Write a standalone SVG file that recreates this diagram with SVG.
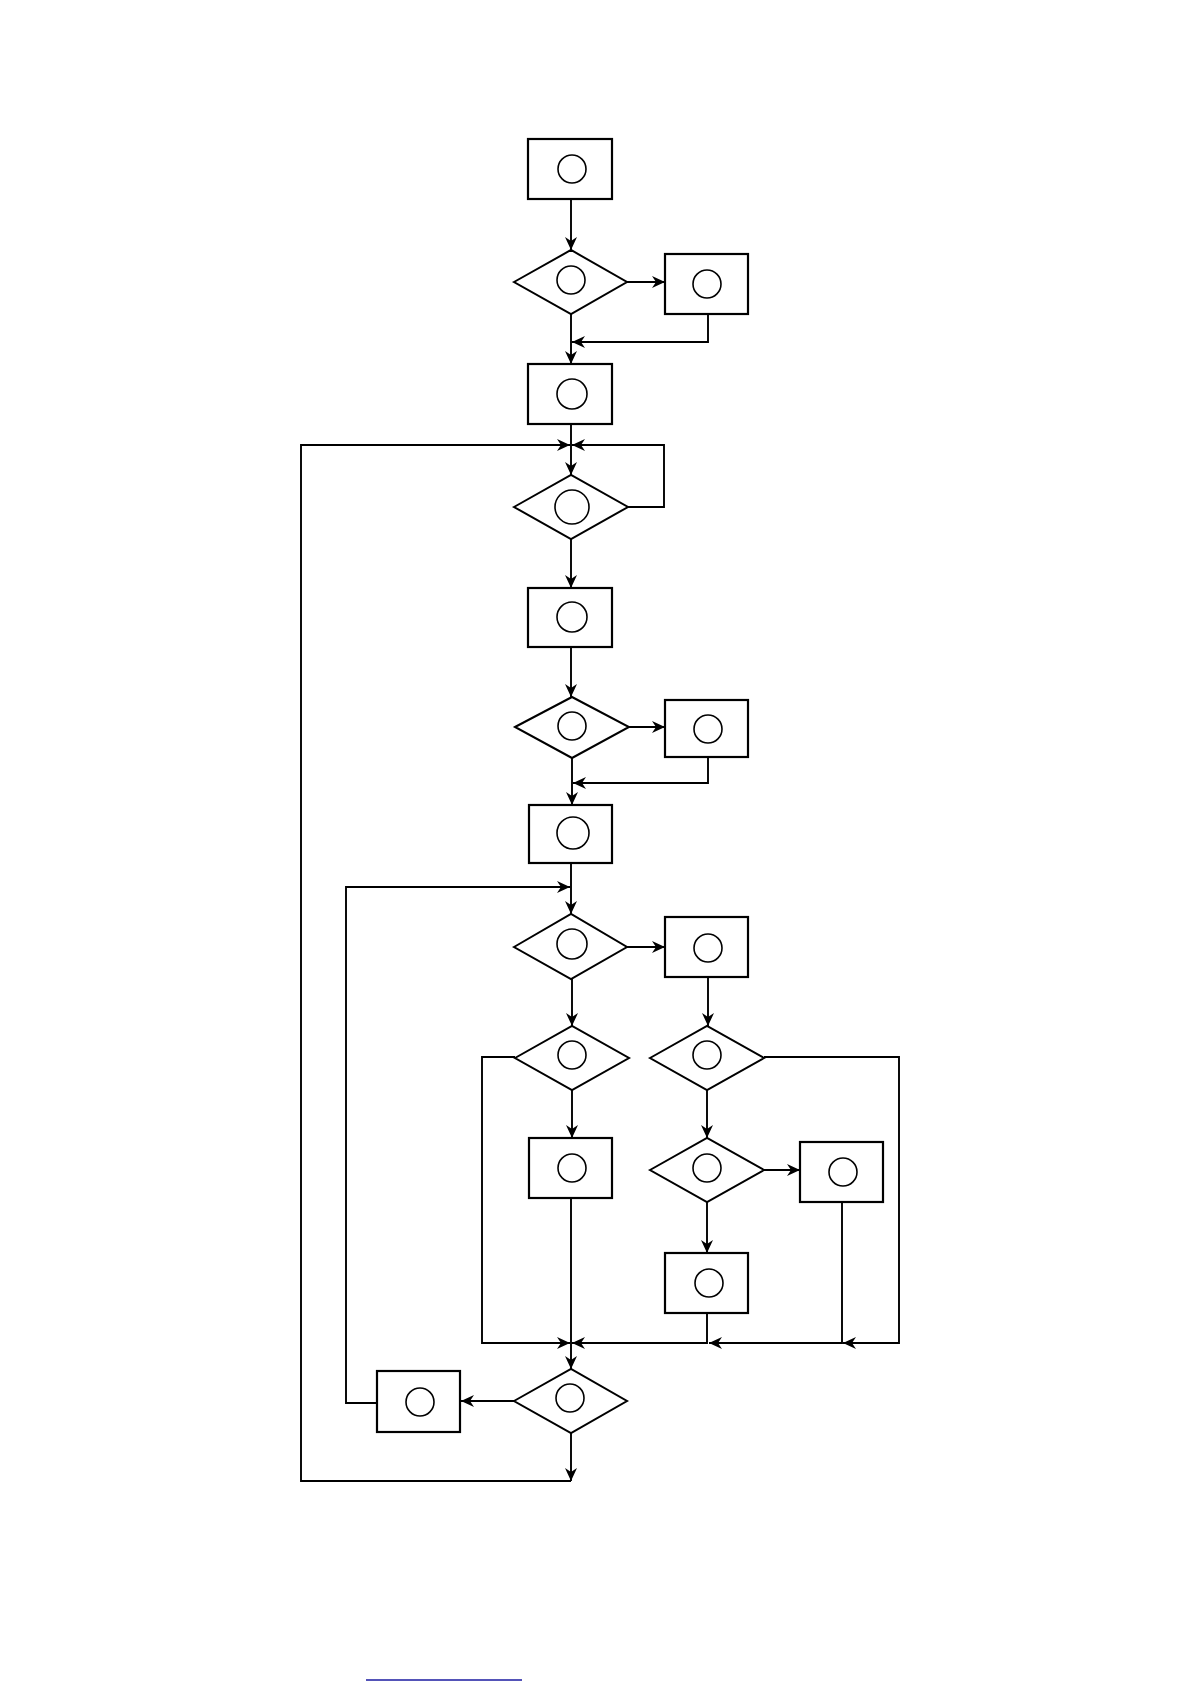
<svg xmlns="http://www.w3.org/2000/svg" width="1190" height="1684" viewBox="0 0 1190 1684">
<style>
.b{fill:#fff;stroke:#000;stroke-width:2.2}
.d{fill:#fff;stroke:#000;stroke-width:2}
.c{fill:none;stroke:#000;stroke-width:1.6}
.e{fill:none;stroke:#000;stroke-width:1.9}
</style>
<defs>
<marker id="a" markerUnits="userSpaceOnUse" markerWidth="14" markerHeight="14" refX="13" refY="6" orient="auto">
<path d="M0,0 L13,6 L0,12 L4,6 z" fill="#000"/>
</marker>
</defs>
<rect x="0" y="0" width="1190" height="1684" fill="#fff"/>
<g id="connectors" class="e">
<path d="M571,199 V250" marker-end="url(#a)"/>
<path d="M627,282 H665" marker-end="url(#a)"/>
<path d="M708,314 V342 H572" marker-end="url(#a)"/>
<path d="M571,314 V364" marker-end="url(#a)"/>
<path d="M571,424 V475" marker-end="url(#a)"/>
<path d="M628,507 H664 V445 H572" marker-end="url(#a)"/>
<path d="M571,1433 V1481" marker-end="url(#a)"/>
<path d="M571,1481 H301 V445 H570" marker-end="url(#a)"/>
<path d="M571,539 V588" marker-end="url(#a)"/>
<path d="M571,647 V697" marker-end="url(#a)"/>
<path d="M629,727 H665" marker-end="url(#a)"/>
<path d="M708,757 V783 H573" marker-end="url(#a)"/>
<path d="M572,758 V805" marker-end="url(#a)"/>
<path d="M571,863 V914" marker-end="url(#a)"/>
<path d="M377,1403 H346 V887 H570" marker-end="url(#a)"/>
<path d="M627,947 H665" marker-end="url(#a)"/>
<path d="M708,977 V1026" marker-end="url(#a)"/>
<path d="M572,979 V1026" marker-end="url(#a)"/>
<path d="M515,1057 H482 V1343 H570" marker-end="url(#a)"/>
<path d="M572,1090 V1138" marker-end="url(#a)"/>
<path d="M571,1198 V1369" marker-end="url(#a)"/>
<path d="M707,1090 V1138" marker-end="url(#a)"/>
<path d="M764,1057 H899 V1343 H843" marker-end="url(#a)"/>
<path d="M764,1170 H800" marker-end="url(#a)"/>
<path d="M842,1202 V1343 H709" marker-end="url(#a)"/>
<path d="M707,1202 V1253" marker-end="url(#a)"/>
<path d="M707,1313 V1343 H572" marker-end="url(#a)"/>
<path d="M514,1401 H461" marker-end="url(#a)"/>
</g>
<g id="n1"><rect class="b" x="528" y="139" width="84" height="60"/><circle class="c" cx="572" cy="169" r="14"/></g>
<g id="d1"><polygon class="d" points="514,282 571,250 627,282 571,314"/><circle class="c" cx="571" cy="280" r="14"/></g>
<g id="n2"><rect class="b" x="665" y="254" width="83" height="60"/><circle class="c" cx="707" cy="284" r="14"/></g>
<g id="n3"><rect class="b" x="528" y="364" width="84" height="60"/><circle class="c" cx="572" cy="394" r="15"/></g>
<g id="d2"><polygon class="d" points="514,507 571,475 628,507 571,539"/><circle class="c" cx="572" cy="507" r="17"/></g>
<g id="n4"><rect class="b" x="528" y="588" width="84" height="59"/><circle class="c" cx="572" cy="617" r="15"/></g>
<g id="d3"><polygon class="d" points="515,727 572,697 629,727 572,758"/><circle class="c" cx="572" cy="726" r="14"/></g>
<g id="n5"><rect class="b" x="665" y="700" width="83" height="57"/><circle class="c" cx="708" cy="729" r="14"/></g>
<g id="n6"><rect class="b" x="529" y="805" width="83" height="58"/><circle class="c" cx="573" cy="833" r="16"/></g>
<g id="d4"><polygon class="d" points="514,947 571,914 627,947 571,979"/><circle class="c" cx="572" cy="944" r="15"/></g>
<g id="n7"><rect class="b" x="665" y="917" width="83" height="60"/><circle class="c" cx="708" cy="948" r="14"/></g>
<g id="d5"><polygon class="d" points="515,1058 572,1026 629,1058 572,1090"/><circle class="c" cx="572" cy="1055" r="14"/></g>
<g id="d6"><polygon class="d" points="650,1058 707,1026 764,1058 707,1090"/><circle class="c" cx="707" cy="1055" r="14"/></g>
<g id="n8"><rect class="b" x="529" y="1138" width="83" height="60"/><circle class="c" cx="572" cy="1168" r="14"/></g>
<g id="d7"><polygon class="d" points="650,1170 707,1138 764,1170 707,1202"/><circle class="c" cx="707" cy="1168" r="14"/></g>
<g id="n9"><rect class="b" x="800" y="1142" width="83" height="60"/><circle class="c" cx="843" cy="1172" r="14"/></g>
<g id="n10"><rect class="b" x="665" y="1253" width="83" height="60"/><circle class="c" cx="709" cy="1283" r="14"/></g>
<g id="d8"><polygon class="d" points="514,1401 571,1369 627,1401 571,1433"/><circle class="c" cx="570" cy="1398" r="14"/></g>
<g id="n11"><rect class="b" x="377" y="1371" width="83" height="61"/><circle class="c" cx="420" cy="1402" r="14"/></g>
<line x1="366" y1="1680" x2="522" y2="1680" stroke="#1a1aa0" stroke-width="1.5"/>
</svg>
